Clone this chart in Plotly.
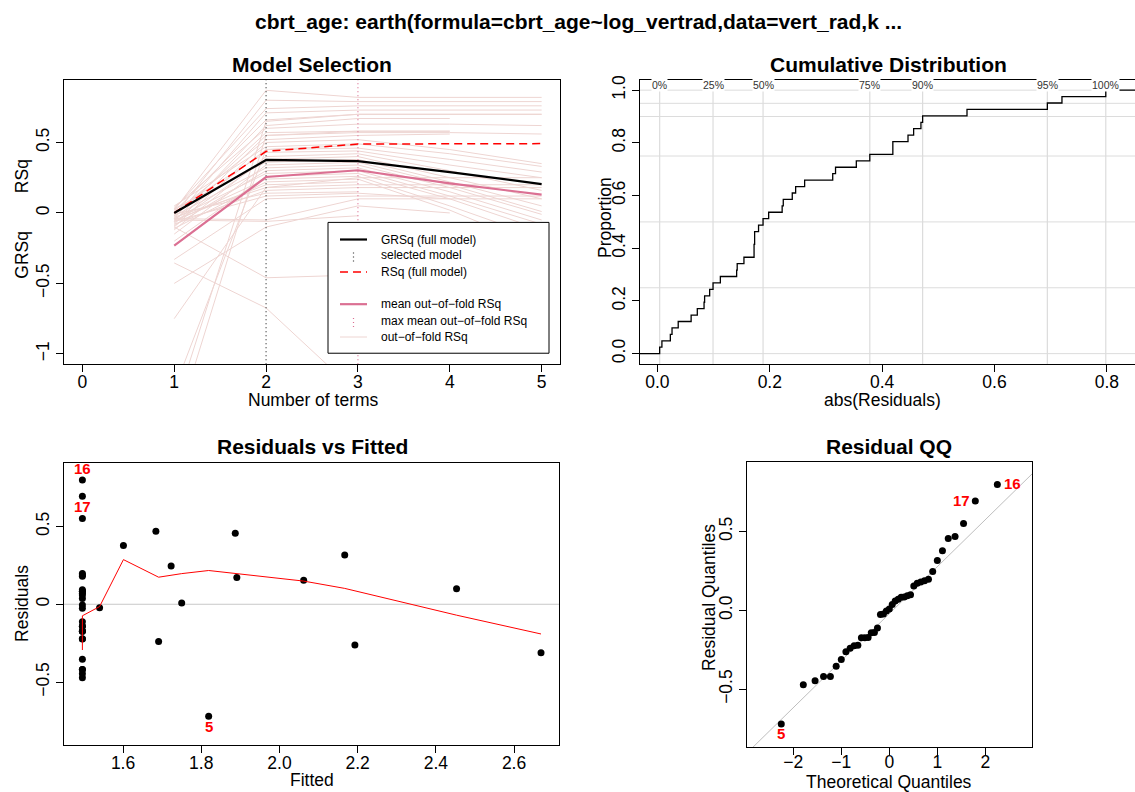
import numpy as np
import plotly.graph_objects as go
from statistics import NormalDist

W, H = 1135, 792
FONT = "Liberation Sans, Arial, Helvetica, sans-serif"


def px(x):
    return x / W


def py(y):
    return 1 - y / H


# ---------------- data: model selection ----------------
nterms = [1, 2, 3, 4, 5]
grsq = [0.000, 0.376, 0.367, 0.290, 0.205]
rsq = [0.000, 0.437, 0.489, 0.490, 0.492]
mean_oof_rsq = [-0.232, 0.255, 0.303, 0.210, 0.130]
selected_nterms = 2
max_mean_oof_nterms = 3
oof_rsq = [
    [0.02, 0.87, 0.82, 0.82, 0.82],
    [-0.02, 0.80, 0.79, 0.79, 0.79],
    [0.03, 0.74, 0.76, 0.76, 0.76],
    [-0.04, 0.71, 0.73, 0.73, 0.73],
    [0.01, 0.66, 0.70, 0.70, 0.70],
    [-0.06, 0.62, 0.67, 0.67],
    [0.04, 0.60, 0.63, 0.63, 0.62],
    [-0.03, 0.57, 0.58, 0.58],
    [-0.08, 0.55, 0.57, 0.57, 0.56],
    [0.00, 0.52, 0.55, 0.56],
    [-0.10, 0.50, 0.52, 0.45, 0.35],
    [0.05, 0.47, 0.49, 0.42, 0.33],
    [-0.05, 0.45, 0.46, 0.38, 0.29],
    [0.02, 0.43, 0.44, 0.34, 0.25],
    [-0.12, 0.40, 0.42, 0.30, 0.16],
    [-0.07, 0.38, 0.40, 0.25, 0.10],
    [0.03, 0.36, 0.38, 0.22, 0.05],
    [-0.15, 0.34, 0.36, 0.20, 0.01],
    [-0.02, 0.32, 0.34, 0.18, -0.01],
    [-0.09, 0.30, 0.32, 0.15, -0.05],
    [-0.04, 0.28, 0.30, 0.12, -0.08],
    [-0.20, 0.26, 0.28, 0.10, -0.12],
    [-0.06, 0.24, 0.26, 0.05, -0.18],
    [-0.11, 0.22, 0.24, 0.02, -0.25],
    [-0.05, 0.20, 0.22],
    [-0.03, 0.18, 0.20, 0.20, 0.20],
    [-0.08, 0.16, 0.18, 0.18, 0.18],
    [-0.01, 0.14, 0.15],
    [-0.06, 0.12, 0.14, 0.10],
    [-0.04, -0.05, 0.10, 0.10, 0.10],
    [-0.05, -0.06, -0.02],
    [-0.33, 0.10, 0.12, 0.12, 0.12],
    [-0.50, -0.10, 0.05, 0.00],
    [-0.75, 0.18, 0.25, 0.25, 0.25],
    [-0.355, -0.674, -1.28],
    [-0.10, -0.46, -0.44],
    [-1.40, 0.65, 0.70, 0.70, 0.70],
    [-1.25, 0.45, 0.48],
    [-1.55, 0.55, 0.58, 0.58],
]

# ---------------- data: residuals (obs 1..41) ----------------
obs_fitted = [
    1.496, 1.723, 1.496, 2.062, 1.819, 1.496, 1.601, 1.496, 2.193, 1.496,
    1.496, 1.684, 1.496, 1.496, 1.540, 1.496, 1.496, 1.496, 1.887, 1.496,
    1.496, 2.669, 1.496, 1.496, 1.691, 1.496, 1.496, 2.167, 1.496, 1.496,
    1.750, 1.496, 1.496, 2.453, 1.496, 1.496, 1.891, 1.496, 1.496, 1.496,
    1.496,
]
obs_residuals = [
    0.083, 0.246, -0.173, 0.154, -0.720, -0.419, 0.378, 0.060, -0.262, -0.141,
    0.188, 0.469, -0.472, 0.037, -0.023, 0.798, 0.694, -0.222, 0.456, -0.004,
    0.093, -0.312, -0.354, 0.198, -0.240, -0.112, 0.071, 0.317, -0.446, 0.551,
    0.008, -0.172, 0.180, 0.099, -0.026, -0.419, 0.172, -0.142, 0.084, -0.224,
    -0.173,
]
labeled_obs = [16, 17, 5]

smooth_fitted = [1.496, 1.496, 1.540, 1.601, 1.691, 1.750, 1.819, 1.891, 2.062, 2.167, 2.453, 2.669]
smooth_resid = [-0.294, -0.074, -0.015, 0.287, 0.174, 0.197, 0.217, 0.196, 0.149, 0.102, -0.070, -0.191]

ecdf_probs = [0, 0.25, 0.5, 0.75, 0.9, 0.95, 1.0]
ecdf_prob_labels = ["0%", "25%", "50%", "75%", "90%", "95%", "100%"]

# ---------------- axis ranges / domains (pixels) ----------------
R1X, R1Y = [-0.2, 5.2], [-1.073, 0.946]
R2X, R2Y = [-0.031, 0.85], [-0.04, 1.04]
R3X, R3Y = [1.449, 2.715], [-0.906, 0.910]
R4X, R4Y = [-2.965, 2.973], [-0.868, 0.943]

D1 = (64, 560, 76, 362)
D2 = (640, 1135, 76, 362)
D3 = (64, 559, 461, 745)
D4 = (747, 1032, 460, 747)

C_GRSQ = "black"
C_RSQ = "#FF0000"
C_MEAN = "#DB7093"   # palevioletred
C_OOF = "#EED5D2"    # mistyrose2
C_VLINE = "#333333"
C_GRID = "#DCDCDC"

fig = go.Figure()

# ---------------- panel 1: model selection ----------------
for fold in oof_rsq:
    fig.add_trace(go.Scatter(x=nterms[:len(fold)], y=fold, mode="lines",
                             line=dict(color=C_OOF, width=1), xaxis="x", yaxis="y",
                             hoverinfo="skip"))
fig.add_trace(go.Scatter(x=[selected_nterms] * 2, y=R1Y, mode="lines",
                         line=dict(color=C_VLINE, width=1.2, dash="1px,3px"), xaxis="x", yaxis="y"))
fig.add_trace(go.Scatter(x=[max_mean_oof_nterms] * 2, y=R1Y, mode="lines",
                         line=dict(color=C_MEAN, width=1.2, dash="1px,3px"), xaxis="x", yaxis="y"))
fig.add_trace(go.Scatter(x=nterms, y=mean_oof_rsq, mode="lines",
                         line=dict(color=C_MEAN, width=2.2), xaxis="x", yaxis="y"))
fig.add_trace(go.Scatter(x=nterms, y=rsq, mode="lines",
                         line=dict(color=C_RSQ, width=1.5, dash="8px,5px"), xaxis="x", yaxis="y"))
fig.add_trace(go.Scatter(x=nterms, y=grsq, mode="lines",
                         line=dict(color=C_GRSQ, width=2.2), xaxis="x", yaxis="y"))

# ---------------- panel 2: cumulative distribution ----------------
abs_res = np.sort(np.abs(np.array(obs_residuals)))
n = len(abs_res)
ecdf_x = np.concatenate([[R2X[0]], abs_res, [R2X[1]]])
ecdf_y = np.concatenate([[0.0], np.arange(1, n + 1) / n, [1.0]])
fig.add_trace(go.Scatter(x=ecdf_x, y=ecdf_y, mode="lines", line_shape="hv",
                         line=dict(color="black", width=1.3), xaxis="x2", yaxis="y2"))
qvals = np.quantile(abs_res, ecdf_probs)

# ---------------- panel 3: residuals vs fitted ----------------
fig.add_trace(go.Scatter(x=R3X, y=[0, 0], mode="lines",
                         line=dict(color="#C8C8C8", width=1), xaxis="x3", yaxis="y3"))
fig.add_trace(go.Scatter(x=obs_fitted, y=obs_residuals, mode="markers",
                         marker=dict(color="black", size=7), xaxis="x3", yaxis="y3"))
fig.add_trace(go.Scatter(x=smooth_fitted, y=smooth_resid, mode="lines",
                         line=dict(color="#FF0000", width=1), xaxis="x3", yaxis="y3"))

# ---------------- panel 4: QQ ----------------
order = np.argsort(obs_residuals, kind="stable")
sorted_res = np.array(obs_residuals)[order]
nd = NormalDist()
theo = np.array([nd.inv_cdf((i + 0.5) / n) for i in range(n)])
q1, q3 = np.quantile(sorted_res, [0.25, 0.75])
z1, z3 = nd.inv_cdf(0.25), nd.inv_cdf(0.75)
slope = (q3 - q1) / (z3 - z1)
icpt = q1 - slope * z1
fig.add_trace(go.Scatter(x=R4X, y=[icpt + slope * R4X[0], icpt + slope * R4X[1]], mode="lines",
                         line=dict(color="#BEBEBE", width=1), xaxis="x4", yaxis="y4"))
fig.add_trace(go.Scatter(x=theo, y=sorted_res, mode="markers",
                         marker=dict(color="black", size=7), xaxis="x4", yaxis="y4"))

# ---------------- axes ----------------
tickfont = dict(family=FONT, size=17.5, color="black")


def axis(dom, rng, horizontal, anchor, tickvals, ticktext, mirror=True, standoff=-5):
    if horizontal:
        domain = [px(dom[0]), px(dom[1])]
    else:
        domain = [py(dom[3]), py(dom[2])]
    d = dict(domain=domain, range=rng, anchor=anchor, showline=True, linecolor="black",
             linewidth=1, mirror=mirror, ticks="outside", ticklen=7, tickcolor="black",
             tickwidth=1, showgrid=False, zeroline=False, tickfont=tickfont,
             tickmode="array", tickvals=tickvals, ticktext=ticktext, fixedrange=True)
    if horizontal:
        d["ticklabelstandoff"] = standoff
    else:
        d["tickangle"] = -90
    return d


MINUS = "\u2212"
fig.update_layout(
    xaxis=axis(D1, R1X, True, "y", [0, 1, 2, 3, 4, 5], ["0", "1", "2", "3", "4", "5"]),
    yaxis=axis(D1, R1Y, False, "x", [-1, -0.5, 0, 0.5], [MINUS + "1", MINUS + "0.5", "0", "0.5"]),
    xaxis2=axis(D2, R2X, True, "y2", [0, 0.2, 0.4, 0.6, 0.8], ["0.0", "0.2", "0.4", "0.6", "0.8"]),
    yaxis2=axis(D2, R2Y, False, "x2", [0, 0.2, 0.4, 0.6, 0.8, 1.0],
                ["0.0", "0.2", "0.4", "0.6", "0.8", "1.0"], mirror=False),
    xaxis3=axis(D3, R3X, True, "y3", [1.6, 1.8, 2.0, 2.2, 2.4, 2.6], ["1.6", "1.8", "2.0", "2.2", "2.4", "2.6"]),
    yaxis3=axis(D3, R3Y, False, "x3", [-0.5, 0, 0.5], [MINUS + "0.5", "0", "0.5"]),
    xaxis4=axis(D4, R4X, True, "y4", [-2, -1, 0, 1, 2], [MINUS + "2", MINUS + "1", "0", "1", "2"],
                standoff=-8),
    yaxis4=axis(D4, R4Y, False, "x4", [-0.5, 0, 0.5], [MINUS + "0.5", "0.0", "0.5"]),
)

shapes = []
annotations = []

# ECDF grid lines
for p in ecdf_probs:
    shapes.append(dict(type="line", xref="x2", yref="y2", x0=R2X[0], x1=R2X[1], y0=p, y1=p,
                       line=dict(color=C_GRID, width=1), layer="below"))
for q, lab in zip(qvals, ecdf_prob_labels):
    shapes.append(dict(type="line", xref="x2", yref="y2", x0=q, x1=q, y0=R2Y[0], y1=R2Y[1],
                       line=dict(color=C_GRID, width=1.2), layer="below"))
    annotations.append(dict(x=q, y=1.02, xref="x2", yref="y2", text=lab, showarrow=False,
                            font=dict(family=FONT, size=10.5, color="#333333"),
                            bgcolor="white", borderpad=0, xanchor="center", yanchor="middle"))

# legend of panel 1 (drawn manually)
shapes.append(dict(type="rect", xref="paper", yref="paper", x0=px(328), x1=px(549), y0=py(351), y1=py(219.5),
                   line=dict(color="black", width=1), fillcolor="white", layer="above"))
leg_rows = [
    (236.7, "GRSq (full model)", "line", C_GRSQ, 2.2, "solid"),
    (252.7, "selected model", "vline", C_VLINE, 1.2, "1px,3px"),
    (269.3, "RSq (full model)", "line", C_RSQ, 1.5, "8px,5px"),
    (301.7, "mean out\u2212of\u2212fold RSq", "line", C_MEAN, 2.2, "solid"),
    (318.7, "max mean out\u2212of\u2212fold RSq", "vline", C_MEAN, 1.2, "1px,3px"),
    (334.7, "out\u2212of\u2212fold RSq", "line", C_OOF, 1, "solid"),
]
for yy, txt, kind, col, wd, dash in leg_rows:
    if kind == "line":
        shapes.append(dict(type="line", xref="paper", yref="paper", x0=px(340), x1=px(367),
                           y0=py(yy), y1=py(yy), line=dict(color=col, width=wd, dash=dash), layer="above"))
    else:
        shapes.append(dict(type="line", xref="paper", yref="paper", x0=px(353.5), x1=px(353.5),
                           y0=py(yy + 6), y1=py(yy - 6), line=dict(color=col, width=wd, dash=dash),
                           layer="above"))
    annotations.append(dict(x=px(379), y=py(yy), xref="paper", yref="paper", text=txt, showarrow=False,
                            xanchor="left", yanchor="middle", font=dict(family=FONT, size=12, color="black")))


# titles and axis labels
def label(x, y, text, size=17.5, bold=False, angle=0, color="black"):
    annotations.append(dict(x=px(x), y=py(y), xref="paper", yref="paper",
                            text=("<b>%s</b>" % text) if bold else text, showarrow=False,
                            xanchor="center", yanchor="middle", textangle=angle,
                            font=dict(family=FONT, size=size, color=color)))


label(578, 18, "cbrt_age: earth(formula=cbrt_age~log_vertrad,data=vert_rad,k ...", size=21, bold=True)
label(312, 61, "Model Selection", size=21, bold=True)
label(888, 61, "Cumulative Distribution", size=21, bold=True)
label(312, 445, "Residuals vs Fitted", size=21, bold=True)
label(889, 445, "Residual QQ", size=21, bold=True)

label(313, 398, "Number of terms")
label(22, 252, "GRSq", angle=-90)
label(22, 173, "RSq", angle=-90)
label(882, 398, "abs(Residuals)")
label(605, 215, "Proportion", angle=-90)
label(312, 780, "Fitted")
label(22, 603, "Residuals", angle=-90)
label(889, 782, "Theoretical Quantiles")
label(709, 597, "Residual Quantiles", angle=-90)

# observation labels
lab_font = dict(family=FONT, size=15, color="#FF0000")
rank = {int(o) + 1: r for r, o in enumerate(order)}
for ob in labeled_obs:
    fx, ry = obs_fitted[ob - 1], obs_residuals[ob - 1]
    ys = 12 if ry > 0.75 else -10
    annotations.append(dict(x=fx, y=ry, xref="x3", yref="y3", text="<b>%d</b>" % ob, showarrow=False,
                            yshift=ys, font=lab_font))
    r = rank[ob]
    if ry > 0.75:
        xs, ys2 = 15, 1
    elif ry > 0:
        xs, ys2 = -14, 0
    else:
        xs, ys2 = 0, -10
    annotations.append(dict(x=theo[r], y=sorted_res[r], xref="x4", yref="y4", text="<b>%d</b>" % ob,
                            showarrow=False, xshift=xs, yshift=ys2, font=lab_font))

fig.update_layout(
    width=W, height=H, autosize=False,
    margin=dict(l=0, r=0, t=0, b=0),
    paper_bgcolor="white", plot_bgcolor="white",
    showlegend=False,
    shapes=shapes, annotations=annotations,
    font=dict(family=FONT, color="black"),
)

fig.write_html("out.html")
